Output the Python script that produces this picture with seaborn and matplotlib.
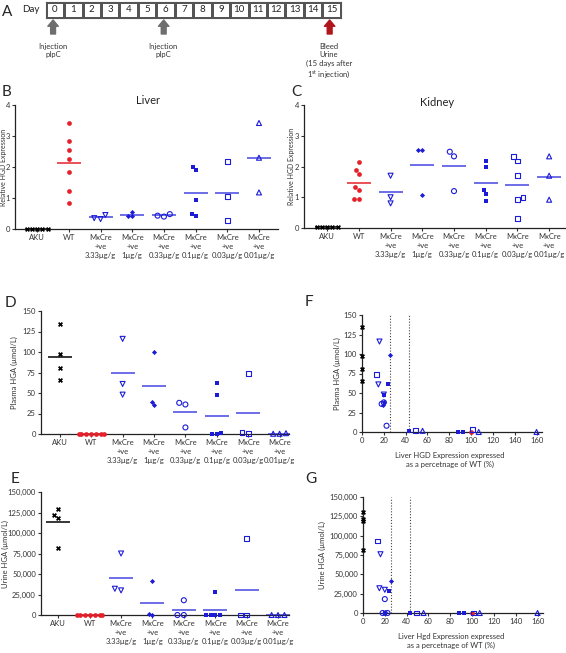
import numpy as np
import matplotlib
matplotlib.use('Agg')
import matplotlib.pyplot as plt
from matplotlib.colors import ListedColormap
from matplotlib.ticker import FuncFormatter
import seaborn as sns

# ---- data ----
days = list(range(16))
groups = ['AKU', 'WT', '3.33', '1', '0.33', '0.1', '0.03', '0.01']
group_labels = ['AKU', 'WT'] + ['MxCre\n+ve\n%sµg/g' % g for g in groups[2:]]

liver = [[0, 0, 0, 0, 0],
         [3.42, 2.85, 2.55, 2.25, 1.85, 1.22, 0.85],
         [0.45, 0.32, 0.35],
         [0.55, 0.42, 0.43],
         [0.48, 0.40, 0.43],
         [1.90, 2.00, 0.92, 0.42, 0.50],
         [2.18, 1.05, 0.28],
         [3.42, 2.30, 1.18]]

kidney = [[0.02, 0.02, 0.02, 0.02, 0.02],
          [2.15, 1.87, 1.75, 1.33, 1.23, 0.95, 0.95],
          [1.70, 1.00, 0.80],
          [2.53, 2.53, 1.08],
          [2.48, 2.33, 1.20],
          [2.17, 1.97, 1.25, 1.12, 0.87],
          [2.33, 2.18, 1.70, 1.00, 0.93, 0.32],
          [2.33, 1.70, 0.92]]

plasma = [[134, 97, 81, 66],
          [0.5, 0.5, 0.5, 0.5, 0.5, 0.5, 0.5],
          [116, 61, 48],
          [100, 35, 39],
          [38, 36, 8],
          [62, 48, 1, 0.5, 0.5],
          [74, 1, 1.5],
          [1, 0.3, 0.3]]

urine = [[129000, 122000, 118500, 82000],
         [0, 0, 0, 0, 0, 0, 0],
         [75000, 30000, 32000],
         [41000, 500, 1000],
         [18000, 0, 0],
         [28000, 0, 0, 0, 0],
         [93000, 0, 0],
         [0, 0, 0]]

# liver HGD (% of WT) vs plasma / urine HGA
pct_x = [[0, 0, 0, 0],
         [100],
         [16, 15, 20],
         [25.6, 19.5, 20],
         [22.5, 18, 20],
         [88, 93, 43, 19.8, 23.5],
         [13, 49, 101.5],
         [160, 107, 55.5]]
plasma_y = [[134, 98, 81, 66],
            [0],
            [116, 61, 48],
            [99, 35, 38],
            [8, 36, 38],
            [0, 0, 1, 48, 62],
            [74, 2, 3],
            [0, 0, 1.5]]
urine_y = [[130000, 122000, 119000, 82000],
           [0],
           [76000, 32000, 30000],
           [42000, 500, 1000],
           [0, 0, 18000],
           [0, 0, 0, 0, 28000],
           [93000, 0, 0],
           [0, 0, 0]]
cutoffs = [25.6, 43.3]

# ---- styles ----
BLUE = '#1c1cd6'
BLUE_LINE = '#4646e0'
RED = '#e5202a'
markers = ['X', 'o', 'v', 'D', 'o', 's', 's', '^']
filled = [True, True, False, True, False, True, False, False]
colors = ['black', RED] + [BLUE] * 6
line_colors = ['black', RED] + [BLUE_LINE] * 6
msize = [3.6, 3.4, 3.6, 2.6, 3.6, 3.0, 3.4, 3.6]

sns.set_theme(style='ticks')
plt.rcParams['font.family'] = ['Lato', 'DejaVu Sans']
plt.rcParams['axes.linewidth'] = 0.9

W, H = 566, 653
fig = plt.figure(figsize=(W / 100, H / 100), dpi=100)


def add_ax(l, t, r, b):
    return fig.add_axes([l / W, 1 - b / H, (r - l) / W, (b - t) / H])


def ftext(x, y, s, **kw):
    fig.text(x / W, 1 - y / H, s, **kw)


def style_ax(ax):
    sns.despine(ax=ax)
    ax.tick_params(axis='both', labelsize=5.5, length=2.5, width=0.8, pad=1.2,
                   colors='#333333')
    for sp in ax.spines.values():
        sp.set_color('#222222')
    # let points sit on the axes; drop the empty collections seaborn leaves behind
    for c in list(ax.collections):
        if len(c.get_offsets()) == 0:
            c.remove()
        else:
            c.set_clip_on(False)


def dot_panel(ax, values, ylabel, xlim, ylim, label_size=5.5):
    for i, vals in enumerate(values):
        x = [groups[i]] * len(vals)
        if filled[i]:
            kw = dict(linewidth=0)
        else:
            kw = dict(facecolor='none', edgecolor=colors[i], linewidth=0.8)
        sns.swarmplot(x=x, y=vals, order=groups, marker=markers[i], color=colors[i],
                      size=msize[i], ax=ax, zorder=3, warn_thresh=1, **kw)
        sns.pointplot(x=x, y=vals, order=groups, errorbar=None, color=line_colors[i],
                      marker='_', markersize=17, markeredgewidth=1.1, linestyle='none',
                      ax=ax, zorder=2)
    ax.set_xlim(*xlim)
    ax.set_ylim(*ylim)
    ax.set_xticks(range(len(groups)))
    ax.set_xticklabels(group_labels, fontsize=5.5, linespacing=1.35)
    ax.set_ylabel(ylabel, fontsize=label_size, color='#333333')
    style_ax(ax)


def pct_panel(ax, ys, ylabel, xlabel, ymax):
    for i in range(len(groups)):
        if filled[i]:
            kw = dict(edgecolor=colors[i], linewidth=0)
        else:
            kw = dict(facecolor='none', edgecolor=colors[i], linewidth=0.8)
        sns.scatterplot(x=pct_x[i], y=ys[i], marker=markers[i], color=colors[i],
                        s=msize[i] ** 2, ax=ax, zorder=3, **kw)
    for c in cutoffs:
        ax.axvline(c, color='#444444', linestyle=(0, (1, 1.6)), linewidth=0.8, zorder=1)
    ax.set_xlim(0, 165)
    ax.set_ylim(0, ymax)
    ax.set_xticks(range(0, 161, 20))
    ax.set_xlabel(xlabel, fontsize=5.5, color='#333333', linespacing=1.3)
    ax.set_ylabel(ylabel, fontsize=5.5, color='#333333')
    style_ax(ax)


# ---- A: timeline ----
axA = add_ax(45.7, 2, 340.7, 18)
sns.heatmap(np.array([days]), ax=axA, annot=True, fmt='d', cbar=False,
            cmap=ListedColormap(['white']), linewidths=0.8, linecolor='#555555',
            xticklabels=False, yticklabels=False,
            annot_kws=dict(fontsize=7, color='#222222'))
for sp in axA.spines.values():
    sp.set_visible(True)
    sp.set_color('#555555')
    sp.set_linewidth(0.8)
for d, col in [(0, '#6e6e6e'), (6, '#6e6e6e'), (15, '#b0151c')]:
    axA.annotate('', xy=(d + 0.4, H - 20), xytext=(d + 0.4, H - 34),
                 xycoords=('data', 'figure pixels'), textcoords=('data', 'figure pixels'),
                 arrowprops=dict(arrowstyle='simple,head_length=0.45,head_width=0.75,tail_width=0.35',
                                 color=col, mutation_scale=10, shrinkA=0, shrinkB=0))
ftext(2, 12, 'A', fontsize=11, va='center')
ftext(22, 9, 'Day', fontsize=7, va='center', color='#222222')
ftext(53, 43, 'Injection\npIpC', fontsize=5.5, ha='center', va='top', color='#333333')
ftext(163, 43, 'Injection\npIpC', fontsize=5.5, ha='center', va='top', color='#333333')
ftext(329, 43, 'Bleed\nUrine\n(15 days after\n1$^{\\mathregular{st}}$ injection)', fontsize=5.5,
      ha='center', va='top', color='#333333')

# ---- B: liver ----
axB = add_ax(15, 105, 278, 229)
dot_panel(axB, liver, 'Relative HGD Expression', (-0.7, 7.6), (0, 4), label_size=5)
axB.set_yticks(range(0, 5))
axB.yaxis.set_label_coords(-0.032, 0.5)
ftext(2, 92, 'B', fontsize=11, va='center')
ftext(148, 101, 'Liver', fontsize=8, ha='center', va='center', color='#222222')

# ---- C: kidney ----
axC = add_ax(304, 105, 565, 228)
dot_panel(axC, kidney, 'Relative HGD Expression', (-0.73, 7.5), (0, 4), label_size=5)
axC.set_yticks(range(0, 5))
axC.yaxis.set_label_coords(-0.033, 0.5)
ftext(291, 92, 'C', fontsize=11, va='center')
ftext(437, 102, 'Kidney', fontsize=8, ha='center', va='center', color='#222222')

# ---- D: plasma HGA ----
axD = add_ax(41, 311, 289, 434)
dot_panel(axD, plasma, 'Plasma HGA (µmol/L)', (-0.6, 7.3), (0, 150))
axD.set_yticks(range(0, 151, 25))
axD.yaxis.set_label_coords(-0.091, 0.5)
ftext(5, 303, 'D', fontsize=11, va='center')

# ---- E: urine HGA ----
axE = add_ax(41, 492, 289, 615)
dot_panel(axE, urine, 'Urine HGA (µmol/L)', (-0.55, 7.35), (0, 150000))
axE.set_yticks(range(0, 150001, 25000))
axE.yaxis.set_major_formatter(FuncFormatter(lambda v, p: f'{int(v):,}'))
axE.yaxis.set_label_coords(-0.131, 0.5)
ftext(11, 479, 'E', fontsize=11, va='center')

# ---- F: liver % vs plasma ----
axF = add_ax(362, 315, 542, 432)
pct_panel(axF, plasma_y, 'Plasma HGA (µmol/L)',
          'Liver HGD Expression expressed\nas a percetnage of WT (%)', 150)
axF.set_yticks(range(0, 151, 25))
axF.yaxis.set_label_coords(-0.119, 0.5)
axF.xaxis.set_label_coords(0.49, -0.17)
ftext(305, 302, 'F', fontsize=11, va='center')

# ---- G: liver % vs urine ----
axG = add_ax(363, 497, 543, 613)
pct_panel(axG, urine_y, 'Urine HGA (µmol/L)',
          'Liver Hgd Expression expressed\nas a percetnage of WT (%)', 150000)
axG.set_yticks(range(0, 150001, 25000))
axG.yaxis.set_major_formatter(FuncFormatter(lambda v, p: f'{int(v):,}'))
axG.yaxis.set_label_coords(-0.208, 0.5)
axG.xaxis.set_label_coords(0.49, -0.17)
ftext(305, 479, 'G', fontsize=11, va='center')

fig.savefig('out.png', dpi=100)
